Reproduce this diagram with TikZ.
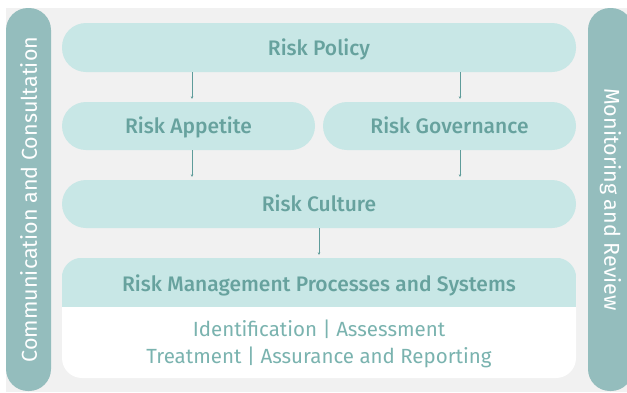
\documentclass[tikz,border=0pt]{standalone}
\usepackage{fontspec}
\setmainfont{Fira Sans}
\IfFontExistsTF{Fira Sans Medium}
  {\newfontfamily\medfont{Fira Sans Medium}}
  {\newcommand\medfont{\bfseries}}
\usetikzlibrary{arrows.meta}
\definecolor{boxfill}{HTML}{C8E7E6}
\definecolor{boxtext}{HTML}{67A29E}
\definecolor{subtext}{HTML}{7AB3AF}
\definecolor{sidefill}{HTML}{94BDBD}
\definecolor{backfill}{HTML}{F1F1F1}
\definecolor{linkcol}{HTML}{5E9C9A}

\begin{document}
\begin{tikzpicture}[x=1pt, y=-1pt,
  box/.style = {fill=boxfill, rounded corners=24pt, inner sep=0pt,
    text=boxtext, font=\fontsize{21}{24}\selectfont\medfont,
    text height=15pt, text depth=0pt},
  side/.style = {fill=sidefill, rounded corners=22pt, inner sep=0pt,
    minimum width=383pt, minimum height=45pt, text=white,
    font=\fontsize{21.5}{24}\selectfont},
  link/.style = {draw=linkcol, line width=0.8pt,
    -{Stealth[length=2.5pt, width=2.5pt]}, shorten >=3pt}]
  \useasboundingbox (0,0) rectangle (627,392);
  \fill[backfill] (6,8) rectangle (627,392);
  % side bars
  \node[side, rotate=90] (comm) at (28.5,199.5) {Communication and Consultation};
  \begin{scope}
    \clip (0,0) rectangle (627,392);
    \node[side, rotate=-90] (monitor) at (610.5,199.5) {Monitoring and Review};
  \end{scope}
  % main boxes
  \node[box, minimum width=514pt, minimum height=49pt] (policy) at (319,47.5) {Risk Policy};
  \node[box, minimum width=253pt, minimum height=48pt] (appetite) at (188.5,126) {Risk Appetite};
  \node[box, minimum width=253pt, minimum height=48pt] (governance) at (449.5,126) {Risk Governance};
  \node[box, minimum width=514pt, minimum height=48pt] (culture) at (319,204) {Risk Culture};
  % processes and systems
  \node[fill=white, rounded corners=20pt, inner sep=0pt,
    minimum width=514pt, minimum height=120pt] (rmpbox) at (319,318) {};
  \begin{scope}
    \clip[rounded corners=20pt] (rmpbox.north west) rectangle (rmpbox.south east);
    \fill[boxfill] (rmpbox.north west) rectangle ([yshift=-49pt]rmpbox.north east);
  \end{scope}
  \node[text=boxtext, font=\fontsize{21}{24}\selectfont\medfont,
    text height=15pt, text depth=0pt] (rmp) at (319,283.5) {Risk Management Processes and Systems};
  \node[text=subtext, font=\fontsize{20.5}{24}\selectfont, align=center] (rmpsub) at (319,343.5)
    {Identification | Assessment\\[3pt] Treatment | Assurance and Reporting};
  % links
  \draw[link] ([xshift=3.5pt]appetite.north |- policy.south) -- ([xshift=3.5pt]appetite.north);
  \draw[link] ([xshift=10.5pt]governance.north |- policy.south) -- ([xshift=10.5pt]governance.north);
  \draw[link] ([xshift=3.5pt]appetite.south) -- ([xshift=3.5pt]appetite.south |- culture.north);
  \draw[link] ([xshift=10.5pt]governance.south) -- ([xshift=10.5pt]governance.south |- culture.north);
  \draw[link] (culture.south) -- (rmpbox.north);
\end{tikzpicture}
\end{document}
